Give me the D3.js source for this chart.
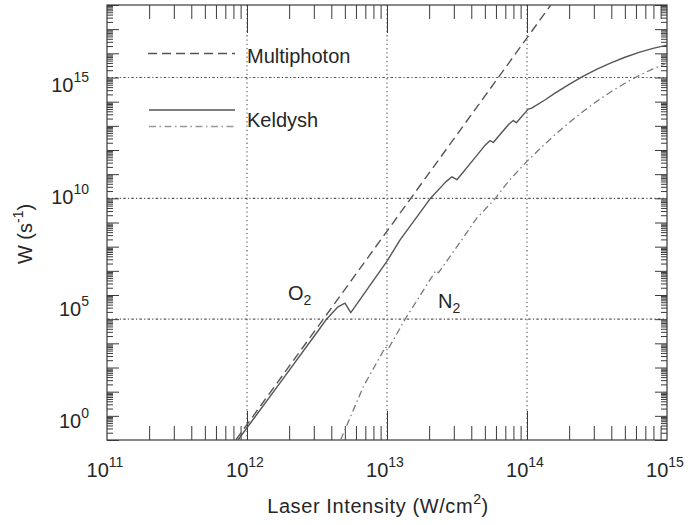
<!DOCTYPE html>
<html>
<head>
<meta charset="utf-8">
<script src="https://cdn.jsdelivr.net/npm/d3@7"></script>
<style>
  html, body { margin: 0; padding: 0; background: #fff; }
  svg { display: block; }
  text { font-family: "Liberation Sans", Arial, Helvetica, sans-serif; fill: #262626; }
</style>
</head>
<body>
<svg id="chart" width="690" height="525"></svg>
<script>
// ---------------- data ----------------
const intensityTicks = [1e11, 1e12, 1e13, 1e14, 1e15];
const intensityExponents = ["11", "12", "13", "14", "15"];
const rateTicks = [1, 1e5, 1e10, 1e15];
const rateExponents = ["0", "5", "10", "15"];
const gridIntensity = [1e12, 1e13, 1e14];
const gridRate = [1e5, 1e10, 1e15];

// Multiphoton (O2, 8-photon power law)
const multiphotonI = [8.32e11, 1.479e14];
const multiphotonW = [1, 1e18];

// Keldysh O2 (solid)
const keldyshO2I = [8.63e11, 1.78e12, 3.32e12, 3.71e12, 4.47e12, 5.01e12, 5.51e12, 9.95e12, 1.24e13,
  2.03e13, 2.63e13, 2.91e13, 3.16e13, 4.17e13, 5.01e13, 5.45e13, 5.74e13, 7.41e13, 7.98e13, 8.39e13,
  1.02e14, 1.08e14, 1.35e14, 1.585e14, 2.0e14, 2.51e14, 3.16e14, 3.98e14, 5.01e14, 6.31e14, 7.94e14, 1e15];
const keldyshO2W = [1, 302, 4.22e4, 1.02e5, 3.24e5, 4.57e5, 1.86e5, 2.40e7, 1.91e8,
  9.55e9, 4.79e10, 7.76e10, 5.89e10, 4.17e11, 1.55e12, 2.45e12, 2.04e12, 1.17e13, 1.66e13, 1.35e13,
  4.90e13, 5.37e13, 1.20e14, 2.27e14, 5.22e14, 1.11e15, 2.20e15, 4.05e15, 6.90e15, 1.09e16, 1.61e16, 2.19e16];

// Keldysh N2 (dash-dot)
const keldyshN2I = [4.66e12, 6.78e12, 9.75e12, 1.016e13, 1.35e13, 2.24e13, 2.33e13, 3.42e13, 4.38e13,
  5.90e13, 7.35e13, 9.95e13, 1.259e14, 1.585e14, 1.995e14, 2.512e14, 3.162e14, 3.981e14, 5.012e14,
  6.31e14, 7.943e14, 1e15];
const keldyshN2W = [1, 162, 7.08e3, 5.62e3, 1.02e5, 1.05e7, 8.32e6, 1.91e8, 1.51e9,
  9.55e9, 5.01e10, 3.31e11, 1.24e12, 4.28e12, 1.35e13, 3.93e13, 1.05e14, 2.58e14, 5.79e14,
  1.20e15, 2.28e15, 3.95e15];

const legendLabels = ["Multiphoton", "Keldysh"];

// ---------------- layout ----------------
const svg = d3.select("#chart");
const L = 107, R = 667, T = 5, B = 440;
const x = d3.scaleLog().domain([1e11, 1e15]).range([L, R]);
const y = d3.scaleLog().domain([1, 1e18]).range([B, T]);
// the y tick labels in the reference are spaced slightly tighter than the decades
const yLabel = d3.scaleLinear().domain([0, 15]).range([428, 91.5]);

const axisColor = "#3a3a3a";

function minorTicks(lo, hi) {
  const out = [];
  for (let e = lo; e < hi; e++) for (let k = 2; k <= 9; k++) out.push(k * Math.pow(10, e));
  return out;
}
const xMinor = minorTicks(11, 15);
const yMinor = minorTicks(0, 18);
const yMajor = d3.range(0, 19).map(e => Math.pow(10, e));

// clip
svg.append("defs").append("clipPath").attr("id", "clip")
  .append("rect").attr("x", L).attr("y", T).attr("width", R - L).attr("height", B - T);

// gridlines
const grid = svg.append("g").attr("stroke", "#555").attr("stroke-width", 1.1);
grid.selectAll("line.gx").data(gridIntensity).join("line")
  .attr("x1", d => x(d)).attr("x2", d => x(d)).attr("y1", T).attr("y2", B)
  .attr("stroke-dasharray", "1.3,3");
grid.selectAll("line.gy").data(gridRate).join("line")
  .attr("y1", d => y(d)).attr("y2", d => y(d)).attr("x1", L).attr("x2", R)
  .attr("stroke-dasharray", "2.5,2.2,1.2,2.2");

// axes ticks (inward)
function styleAxis(g) {
  g.select(".domain").remove();
  g.selectAll(".tick line").attr("stroke", axisColor).attr("stroke-width", 1);
  g.selectAll(".tick text").remove();
}
svg.append("g").attr("transform", `translate(0,${B})`)
  .call(d3.axisBottom(x).tickValues(intensityTicks.slice(1, 4)).tickSize(-29).tickFormat(""))
  .call(styleAxis);
svg.append("g").attr("transform", `translate(0,${B})`)
  .call(d3.axisBottom(x).tickValues(xMinor).tickSize(-14).tickFormat(""))
  .call(styleAxis);
svg.append("g").attr("transform", `translate(0,${T})`)
  .call(d3.axisTop(x).tickValues(intensityTicks.slice(1, 4)).tickSize(-28).tickFormat(""))
  .call(styleAxis);
svg.append("g").attr("transform", `translate(0,${T})`)
  .call(d3.axisTop(x).tickValues(xMinor).tickSize(-14).tickFormat(""))
  .call(styleAxis);
svg.append("g").attr("transform", `translate(${L},0)`)
  .call(d3.axisLeft(y).tickValues(yMajor).tickSize(-12).tickFormat(""))
  .call(styleAxis);
svg.append("g").attr("transform", `translate(${L},0)`)
  .call(d3.axisLeft(y).tickValues(yMinor).tickSize(-6).tickFormat(""))
  .call(styleAxis);
svg.append("g").attr("transform", `translate(${R},0)`)
  .call(d3.axisRight(y).tickValues(yMajor).tickSize(-12).tickFormat(""))
  .call(styleAxis);
svg.append("g").attr("transform", `translate(${R},0)`)
  .call(d3.axisRight(y).tickValues(yMinor).tickSize(-6).tickFormat(""))
  .call(styleAxis);

// frame
svg.append("rect").attr("x", L).attr("y", T).attr("width", R - L).attr("height", B - T)
  .attr("fill", "none").attr("stroke", axisColor).attr("stroke-width", 1.2);

// curves
const line = d3.line().x(d => x(d[0])).y(d => y(d[1]));
const curves = svg.append("g").attr("clip-path", "url(#clip)").attr("fill", "none")
  .attr("stroke-linejoin", "round");
curves.append("path").datum(d3.zip(keldyshN2I, keldyshN2W))
  .attr("d", line).attr("stroke", "#7a7a7a").attr("stroke-width", 1.3)
  .attr("stroke-dasharray", "7,3.5,1.5,3.5");
curves.append("path").datum(d3.zip(multiphotonI, multiphotonW))
  .attr("d", line).attr("stroke", "#555").attr("stroke-width", 1.4)
  .attr("stroke-dasharray", "9,5");
curves.append("path").datum(d3.zip(keldyshO2I, keldyshO2W))
  .attr("d", line).attr("stroke", "#555").attr("stroke-width", 1.4);

// tick labels
const xl = svg.append("g").attr("font-size", 20);
intensityTicks.forEach((v, i) => {
  const t = xl.append("text").attr("x", x(v) - 2).attr("y", 477).attr("text-anchor", "middle");
  t.append("tspan").text("10");
  t.append("tspan").attr("font-size", 14).attr("dy", -10).text(intensityExponents[i]);
});
const yl = svg.append("g").attr("font-size", 20);
rateTicks.forEach((v, i) => {
  const t = yl.append("text").attr("x", 89).attr("y", yLabel(Math.log10(v))).attr("text-anchor", "end");
  t.append("tspan").text("10");
  t.append("tspan").attr("font-size", 14).attr("dy", -10).text(rateExponents[i]);
});

// axis titles
const xt = svg.append("text").attr("x", 378).attr("y", 513).attr("text-anchor", "middle")
  .attr("font-size", 20).attr("letter-spacing", 0.6);
xt.append("tspan").text("Laser Intensity (W/cm");
xt.append("tspan").attr("font-size", 14).attr("dy", -9).text("2");
xt.append("tspan").attr("dy", 9).text(")");

const yt = svg.append("text").attr("transform", "translate(32,234) rotate(-90)")
  .attr("text-anchor", "middle").attr("font-size", 20);
yt.append("tspan").text("W (s");
yt.append("tspan").attr("font-size", 14).attr("dy", -9).text("-1");
yt.append("tspan").attr("dy", 9).text(")");

// legend
const lg = svg.append("g");
lg.append("line").attr("x1", 148).attr("x2", 235).attr("y1", 53.5).attr("y2", 53.5)
  .attr("stroke", "#555").attr("stroke-width", 1.4).attr("stroke-dasharray", "9,5");
lg.append("line").attr("x1", 149).attr("x2", 235).attr("y1", 110).attr("y2", 110)
  .attr("stroke", "#555").attr("stroke-width", 1.4);
lg.append("line").attr("x1", 149).attr("x2", 235).attr("y1", 126.5).attr("y2", 126.5)
  .attr("stroke", "#999").attr("stroke-width", 1.3).attr("stroke-dasharray", "7,3.5,1.5,3.5");
lg.append("text").attr("x", 247).attr("y", 63).attr("font-size", 20).text(legendLabels[0]);
lg.append("text").attr("x", 247).attr("y", 127).attr("font-size", 20).text(legendLabels[1]);

// molecule labels
const o2 = svg.append("text").attr("x", 288).attr("y", 300).attr("font-size", 20);
o2.append("tspan").text("O");
o2.append("tspan").attr("font-size", 14).attr("dy", 5).text("2");
const n2 = svg.append("text").attr("x", 438).attr("y", 308).attr("font-size", 20);
n2.append("tspan").text("N");
n2.append("tspan").attr("font-size", 14).attr("dy", 5).text("2");
</script>
</body>
</html>
